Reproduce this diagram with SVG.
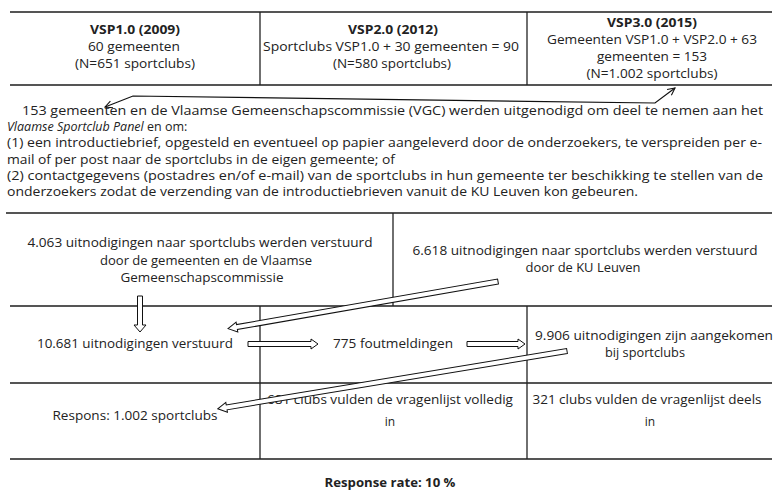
<svg xmlns="http://www.w3.org/2000/svg" width="775" height="500" viewBox="0 0 775 500">
<defs>
<style>
.t{font-family:"Open Sans","Liberation Sans",sans-serif;font-size:12.5px;fill:#222}
.s{font-size:12px}
.b{font-weight:bold}
.c{text-anchor:middle}
.hl{stroke:#555;stroke-width:2}
.vl{stroke:#222;stroke-width:1.3}
.ha{fill:#fff;stroke:#111;stroke-width:1}
.conn{fill:none;stroke:#111;stroke-width:1.2}
</style>
<marker id="open" viewBox="0 0 10 10" refX="9" refY="5" markerWidth="9" markerHeight="9" markerUnits="userSpaceOnUse" orient="auto-start-reverse">
<path d="M1,1 L9,5 L1,9" fill="none" stroke="#111" stroke-width="1.2"/>
</marker>
<polygon id="dummy" points="0,0"/>
</defs>
<rect width="775" height="500" fill="#fff"/>

<g id="table-lines">
<line class="hl" x1="10" y1="12" x2="772" y2="12"/>
<line class="hl" x1="10" y1="85" x2="772" y2="85"/>
<line class="vl" x1="260" y1="12" x2="260" y2="85"/>
<line class="vl" x1="527" y1="12" x2="527" y2="85"/>
<line class="hl" x1="6" y1="213" x2="772" y2="213"/>
<line class="hl" x1="10" y1="306" x2="772" y2="306"/>
<line class="hl" x1="10" y1="383" x2="772" y2="383"/>
<line class="hl" x1="10" y1="459" x2="772" y2="459"/>
<line class="vl" x1="393" y1="213" x2="393" y2="306"/>
<line class="vl" x1="260" y1="306" x2="260" y2="459"/>
<line class="vl" x1="527" y1="306" x2="527" y2="459"/>
</g>

<g id="vsp1">
<text class="t b c" x="135" y="34" textLength="90" lengthAdjust="spacingAndGlyphs">VSP1.0 (2009)</text>
<text class="t c" x="134" y="51" textLength="92" lengthAdjust="spacingAndGlyphs">60 gemeenten</text>
<text class="t c" x="135" y="68" textLength="120" lengthAdjust="spacingAndGlyphs">(N=651 sportclubs)</text>
</g>
<g id="vsp2">
<text class="t b c" x="393" y="34" textLength="90" lengthAdjust="spacingAndGlyphs">VSP2.0 (2012)</text>
<text class="t c" x="391" y="51" textLength="256" lengthAdjust="spacingAndGlyphs">Sportclubs VSP1.0 + 30 gemeenten = 90</text>
<text class="t c" x="392" y="68" textLength="118" lengthAdjust="spacingAndGlyphs">(N=580 sportclubs)</text>
</g>
<g id="vsp3">
<text class="t b c" x="652" y="27" textLength="90" lengthAdjust="spacingAndGlyphs">VSP3.0 (2015)</text>
<text class="t c" x="652" y="44" textLength="210" lengthAdjust="spacingAndGlyphs">Gemeenten VSP1.0 + VSP2.0 + 63</text>
<text class="t c" x="652" y="61" textLength="110" lengthAdjust="spacingAndGlyphs">gemeenten = 153</text>
<text class="t c" x="652" y="78" textLength="131" lengthAdjust="spacingAndGlyphs">(N=1.002 sportclubs)</text>
</g>

<g id="invitation">
<text class="t" x="22" y="115" textLength="741" lengthAdjust="spacingAndGlyphs">153 gemeenten en de Vlaamse Gemeenschapscommissie (VGC) werden uitgenodigd om deel te nemen aan het</text>
<text class="t" x="7" y="131"><tspan font-style="italic">Vlaamse Sportclub Panel</tspan> en om:</text>
<text class="t" x="7" y="147" textLength="755" lengthAdjust="spacingAndGlyphs">(1) een introductiebrief, opgesteld en eventueel op papier aangeleverd door de onderzoekers, te verspreiden per e-</text>
<text class="t" x="7" y="163.5" textLength="388" lengthAdjust="spacingAndGlyphs">mail of per post naar de sportclubs in de eigen gemeente; of</text>
<text class="t" x="7" y="180" textLength="756" lengthAdjust="spacingAndGlyphs">(2) contactgegevens (postadres en/of e-mail) van de sportclubs in hun gemeente ter beschikking te stellen van de</text>
<text class="t" x="7" y="196" textLength="631" lengthAdjust="spacingAndGlyphs">onderzoekers zodat de verzending van de introductiebrieven vanuit de KU Leuven kon gebeuren.</text>
</g>

<g id="sent-municipalities">
<text class="t c" x="200" y="247" textLength="345" lengthAdjust="spacingAndGlyphs">4.063 uitnodigingen naar sportclubs werden verstuurd</text>
<text class="t c" x="206" y="264.5" textLength="212" lengthAdjust="spacingAndGlyphs">door de gemeenten en de Vlaamse</text>
<text class="t c" x="202" y="282" textLength="163" lengthAdjust="spacingAndGlyphs">Gemeenschapscommissie</text>
</g>
<g id="sent-kuleuven">
<text class="t c" x="585" y="255" textLength="345" lengthAdjust="spacingAndGlyphs">6.618 uitnodigingen naar sportclubs werden verstuurd</text>
<text class="t c" x="583" y="272" textLength="115" lengthAdjust="spacingAndGlyphs">door de KU Leuven</text>
</g>
<g id="sent-total">
<text class="t c" x="135" y="348" textLength="196" lengthAdjust="spacingAndGlyphs">10.681 uitnodigingen verstuurd</text>
</g>
<g id="errors">
<text class="t c" x="393" y="348" textLength="120" lengthAdjust="spacingAndGlyphs">775 foutmeldingen</text>
</g>
<g id="arrived">
<text class="t c" x="654" y="340" textLength="238" lengthAdjust="spacingAndGlyphs">9.906 uitnodigingen zijn aangekomen</text>
<text class="t c" x="645" y="357" textLength="80" lengthAdjust="spacingAndGlyphs">bij sportclubs</text>
</g>
<g id="response">
<text class="t s c" x="135" y="420" textLength="165" lengthAdjust="spacingAndGlyphs">Respons: 1.002 sportclubs</text>
</g>
<g id="complete">
<text class="t s c" x="390" y="404" textLength="246" lengthAdjust="spacingAndGlyphs">681 clubs vulden de vragenlijst volledig</text>
<text class="t s c" x="390" y="426">in</text>
</g>
<g id="partial">
<text class="t s c" x="647" y="404" textLength="229" lengthAdjust="spacingAndGlyphs">321 clubs vulden de vragenlijst deels</text>
<text class="t s c" x="650" y="426">in</text>
</g>
<g id="rate">
<text class="t b c" x="390" y="487" textLength="131" lengthAdjust="spacingAndGlyphs">Response rate: 10 %</text>
</g>

<g id="connectors">
<polyline class="conn" points="105,107 133,96 655,103 675,88" marker-start="url(#open)" marker-end="url(#open)"/>
<polygon class="ha" transform="translate(140,296) rotate(90)" points="0,-2.5 29,-2.5 29,-6 36,0 29,6 29,2.5 0,2.5"/>
<polygon class="ha" transform="translate(498,281.5) rotate(170.1)" points="0,-2.5 265,-2.5 265,-5 274,0 265,5 265,2.5 0,2.5"/>
<polygon class="ha" transform="translate(248,344) rotate(0)" points="0,-2.5 63,-2.5 63,-5 70,0 63,5 63,2.5 0,2.5"/>
<polygon class="ha" transform="translate(467,344) rotate(0)" points="0,-2.5 51,-2.5 51,-5 58,0 51,5 51,2.5 0,2.5"/>
<polygon class="ha" transform="translate(567,351) rotate(170.6)" points="0,-2.5 345,-2.5 345,-5 354,0 345,5 345,2.5 0,2.5"/>
</g>
</svg>
